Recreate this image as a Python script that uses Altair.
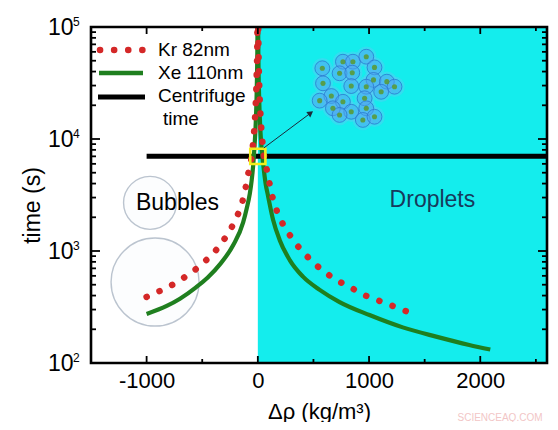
import altair as alt
import pandas as pd

W, H = 456, 336
FONT = "Liberation Sans"
CYAN = "#14EDED"
RED = "#D42828"
GREEN = "#1F7F1F"

# ---- data ----
kr_left_rho = [-1000, -876, -768, -664, -556, -466, -380, -305, -236, -177, -137, -108, -87, -60, -34, -26, -19, -14, -11, -8, -6, -4.7, -3.9]
kr_left_t = [389, 442, 500, 578, 690, 826, 1006, 1262, 1625, 2150, 2800, 3750, 4870, 6500, 11500, 15000, 20500, 27000, 35500, 46500, 63000, 83000, 100000]
kr_right_rho = [1330, 1213, 1094, 978, 864, 750, 646, 547, 451, 368, 293, 230, 177, 137, 108, 87, 60, 34, 26, 19, 14, 11, 8, 6, 4.7, 3.9]
kr_right_t = [291, 323, 358, 396, 455, 522, 603, 716, 879, 1080, 1361, 1706, 2200, 2890, 3890, 5000, 6500, 11500, 15000, 20500, 27000, 35500, 46500, 63000, 83000, 100000]

xe_left_rho = [-1000, -819, -700, -556, -450, -341, -221, -132, -100, -72, -55, -42, -30, -20, -12, -7, -4.5, -2.7]
xe_left_t = [274, 323, 375, 474, 580, 760, 1130, 1800, 2400, 3250, 4300, 5800, 8500, 13000, 22000, 38000, 60000, 100000]
xe_right_rho = [2.7, 4.5, 7, 12, 20, 30, 48, 70, 92, 137, 197, 287, 406, 556, 735, 1004, 1303, 1603, 1901, 2090]
xe_right_t = [100000, 60000, 38000, 23000, 13800, 9200, 6000, 4000, 3100, 1900, 1250, 830, 590, 450, 350, 268, 208, 172, 145, 132]

centrifuge_rho = [-1000, 2600]
centrifuge_t = 7000

droplet_region = [0, 2600]

y_major = [100, 1000, 10000, 100000]
y_exp = ["2", "3", "4", "5"]
y_minor = [200, 300, 400, 500, 600, 700, 800, 900,
           2000, 3000, 4000, 5000, 6000, 7000, 8000, 9000,
           20000, 30000, 40000, 50000, 60000, 70000, 80000, 90000]
x_major = [-1000, 0, 1000, 2000]
x_minor = [-500, 500, 1500, 2500]

legend_labels = ["Kr 82nm", "Xe 110nm", "Centrifuge", "time"]

# annotation anchors (data units)
bubble_big = (-924, 528)
bubble_small = (-969, 2690)
square_at = (0, 7000)
arrow_from = (54, 8320)
arrow_to = (475, 17060)
bubbles_label = (-722, 2320)
droplets_label = (1570, 2470)
cluster_rho = [580, 765, 855, 975, 1049, 735, 849, 1040, 1160, 1229, 586, 840, 975, 1109, 661, 765, 960, 556, 675, 840, 975, 735, 944, 1049]
cluster_t = [42800, 49000, 49000, 54300, 43600, 38600, 39100, 33700, 32500, 29300, 31400, 29700, 29300, 26400, 24200, 21500, 23100, 22000, 18800, 17500, 18800, 16400, 14800, 15800]

xs = alt.Scale(domain=[-1500, 2600], nice=False, zero=False)
ys = alt.Scale(type="log", domain=[100, 100000], nice=False)


def XF(f, axis=None):
    if axis is not None:
        return alt.X(f, type="quantitative", scale=xs, axis=axis)
    return alt.X(f, type="quantitative", scale=xs)


def YF(f, axis=None):
    if axis is not None:
        return alt.Y(f, type="quantitative", scale=ys, axis=axis)
    return alt.Y(f, type="quantitative", scale=ys)


xaxis = alt.Axis(values=x_major, labelExpr="'' + datum.value", ticks=False, tickSize=0,
                 domain=False, grid=False, labelFont=FONT, labelFontSize=22,
                 labelColor="black", labelPadding=7, labelFlush=False,
                 title="Δρ (kg/m³)", titleFont=FONT, titleFontSize=22,
                 titleFontWeight="normal", titleColor="black", titleY=55,
                 titleBaseline="alphabetic")
yaxis = alt.Axis(values=y_major, labelExpr="'10'", ticks=False, tickSize=0,
                 domain=False, grid=False, labelFont=FONT, labelFontSize=23,
                 labelColor="black", labelPadding=18, labelFlush=False,
                 title="time (s)", titleFont=FONT, titleFontSize=23,
                 titleFontWeight="normal", titleColor="black", titleX=-52,
                 titleY=178, titleAngle=270, titleBaseline="alphabetic",
                 titleAlign="center")

one = pd.DataFrame({"a": [0]})

xe_df = pd.DataFrame({
    "rho": xe_left_rho + xe_right_rho,
    "t": xe_left_t + xe_right_t,
    "seg": ["L"] * len(xe_left_rho) + ["R"] * len(xe_right_rho),
    "i": list(range(len(xe_left_rho))) + list(range(len(xe_right_rho))),
})

# invisible first layer that carries the axes
axes_layer = alt.Chart(xe_df).mark_point(opacity=0).encode(
    x=XF("rho", xaxis), y=YF("t", yaxis))

reg = pd.DataFrame({"x0": [droplet_region[0]], "x1": [droplet_region[1]]})
cyan = alt.Chart(reg).mark_rect(color=CYAN).encode(
    x=XF("x0"), x2="x1", y=alt.value(0), y2=alt.value(H))


def bubble(pos, size):
    d = pd.DataFrame({"x": [pos[0]], "y": [pos[1]]})
    return alt.Chart(d).mark_point(shape="circle", filled=True, size=size,
                                   fill="#F7F9FC", fillOpacity=0.4,
                                   stroke="#B4BECA", strokeWidth=1.4,
                                   strokeOpacity=0.9).encode(x=XF("x"), y=YF("y"))


b1 = bubble(bubble_big, 7744)
b2 = bubble(bubble_small, 2809)

cdf = pd.DataFrame({"x0": [centrifuge_rho[0]], "x1": [centrifuge_rho[1]], "t": [centrifuge_t]})
cent = alt.Chart(cdf).mark_rule(color="black", strokeWidth=5).encode(
    x=XF("x0"), x2="x1", y=YF("t"))

xe = alt.Chart(xe_df).mark_line(color=GREEN, strokeWidth=4.2, clip=True,
                                interpolate="monotone").encode(
    x=XF("rho"), y=YF("t"), detail="seg:N", order="i:Q")

kr_df = pd.DataFrame({
    "rho": kr_left_rho + kr_right_rho,
    "t": kr_left_t + kr_right_t,
    "seg": ["L"] * len(kr_left_rho) + ["R"] * len(kr_right_rho),
    "i": list(range(len(kr_left_rho))) + list(range(len(kr_right_rho))),
})
kr = alt.Chart(kr_df).mark_line(color=RED, strokeWidth=6.5, strokeCap="round",
                                strokeDash=[0.1, 14], clip=True,
                                interpolate="monotone").encode(
    x=XF("rho"), y=YF("t"), detail="seg:N", order="i:Q")

sq = alt.Chart(pd.DataFrame({"x": [square_at[0]], "y": [square_at[1]]})).mark_point(
    shape="square", size=230, filled=False, stroke="#F2EE1C", strokeWidth=2.6,
    opacity=1).encode(x=XF("x"), y=YF("y"))

adf = pd.DataFrame({"x0": [arrow_from[0]], "y0": [arrow_from[1]],
                    "x1": [arrow_to[0]], "y1": [arrow_to[1]]})
arrow = alt.Chart(adf).mark_rule(color="#1B2A3A", strokeWidth=1).encode(
    x=XF("x0"), y=YF("y0"), x2="x1", y2="y1")
head = alt.Chart(adf).mark_point(shape="triangle-up", size=45, filled=True,
                                 color="#1B2A3A", angle=54, opacity=1).encode(
    x=XF("x1"), y=YF("y1"))

cl = pd.DataFrame({"x": cluster_rho, "y": cluster_t})
cl_bg = alt.Chart(cl).mark_point(shape="circle", filled=True, size=420,
                                 color="#6FC0F7", opacity=0.35).encode(x=XF("x"), y=YF("y"))
cl_c = alt.Chart(cl).mark_point(shape="circle", filled=True, size=220,
                                fill="#4FA6F0", fillOpacity=0.5,
                                stroke="#2A78D0", strokeWidth=1,
                                strokeOpacity=0.8).encode(x=XF("x"), y=YF("y"))
cl_d = alt.Chart(cl).mark_point(shape="circle", filled=True, size=26,
                                color="#5A9A3A", opacity=0.9).encode(x=XF("x"), y=YF("y"))


def label(pos, txt, color):
    d = pd.DataFrame({"x": [pos[0]], "y": [pos[1]], "s": [txt]})
    return alt.Chart(d).mark_text(font=FONT, fontSize=23, color=color,
                                  align="center", baseline="alphabetic").encode(
        x=XF("x"), y=YF("y"), text="s:N")


lb1 = label(bubbles_label, "Bubbles", "black")
lb2 = label(droplets_label, "Droplets", "#173A5C")

frame = alt.Chart(one).mark_rect(fill="transparent", stroke="black", strokeWidth=2.6).encode(
    x=alt.value(0), x2=alt.value(W), y=alt.value(0), y2=alt.value(H))


def yticks(vals, length):
    d = pd.DataFrame({"v": vals})
    left = alt.Chart(d).mark_rule(color="black", strokeWidth=1.8).encode(
        y=YF("v"), x=alt.value(0), x2=alt.value(length))
    right = alt.Chart(d).mark_rule(color="black", strokeWidth=1.8).encode(
        y=YF("v"), x=alt.value(W), x2=alt.value(W - length))
    return [left, right]


def xticks(vals, length):
    d = pd.DataFrame({"v": vals})
    bot = alt.Chart(d).mark_rule(color="black", strokeWidth=1.8).encode(
        x=XF("v"), y=alt.value(H), y2=alt.value(H - length))
    top = alt.Chart(d).mark_rule(color="black", strokeWidth=1.8).encode(
        x=XF("v"), y=alt.value(0), y2=alt.value(length))
    return [bot, top]


ticks = yticks(y_major, 9) + yticks(y_minor, 5) + xticks(x_major, 7) + xticks(x_minor, 4)

edf = pd.DataFrame({"v": y_major, "e": y_exp})
exps = alt.Chart(edf).mark_text(font=FONT, fontSize=12, align="left",
                                baseline="middle", dx=0, dy=-5, color="black").encode(
    y=YF("v"), x=alt.value(-18), text="e:N")

leg = [
    alt.Chart(one).mark_rule(color=RED, strokeWidth=6.5, strokeCap="round",
                             strokeDash=[0.1, 14]).encode(
        x=alt.value(9), x2=alt.value(52), y=alt.value(23)),
    alt.Chart(one).mark_rule(color=GREEN, strokeWidth=4.5).encode(
        x=alt.value(8), x2=alt.value(52), y=alt.value(46)),
    alt.Chart(one).mark_rule(color="black", strokeWidth=5).encode(
        x=alt.value(7), x2=alt.value(54), y=alt.value(70)),
]
for txt, xp, yp in zip(legend_labels, [67, 67, 67, 72], [23, 46, 69, 92]):
    leg.append(alt.Chart(pd.DataFrame({"s": [txt]})).mark_text(
        font=FONT, fontSize=19, align="left", baseline="middle", color="black").encode(
        x=alt.value(xp), y=alt.value(yp), text="s:N"))

wm = alt.Chart(pd.DataFrame({"s": ["SCIENCEAQ.COM"]})).mark_text(
    font=FONT, fontSize=10, align="center", baseline="middle", color="#F2C6C6").encode(
    x=alt.value(409), y=alt.value(391), text="s:N")

chart = alt.layer(
    axes_layer, cyan, b1, b2, cent, xe, kr, sq, arrow, head, cl_bg, cl_c, cl_d, lb1, lb2,
    frame, *ticks, exps, *leg, wm
).properties(
    width=W, height=H,
    autosize=alt.AutoSizeParams(type="none"),
    padding={"left": 83, "top": 19, "right": 3, "bottom": 59},
    background="white",
).configure_view(stroke="transparent")

chart.save("out.html", embed_options={"renderer": "svg", "actions": False})
